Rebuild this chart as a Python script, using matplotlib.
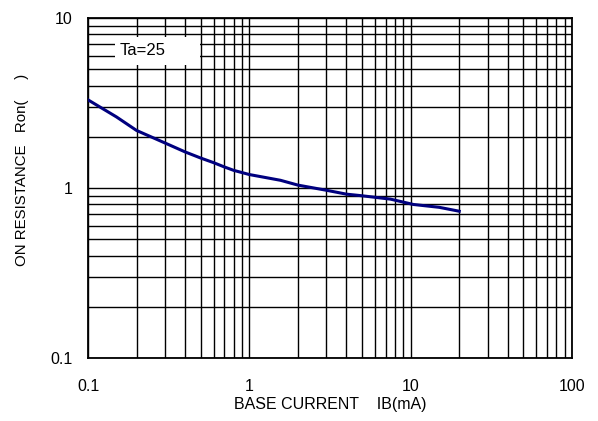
import matplotlib.pyplot as plt
from matplotlib.patches import Rectangle
from matplotlib.ticker import LogLocator, NullFormatter, FixedLocator, FixedFormatter

plt.rcParams["font.family"] = ["Liberation Sans", "DejaVu Sans"]

# curve
ib_ma = [0.1, 0.15, 0.2, 0.3, 0.4, 0.5, 0.6, 0.7, 0.8, 1.0, 1.56, 2.0, 3.0, 4.0, 5.0, 7.5, 10.4, 15.0, 20.0]
ron = [3.3, 2.62, 2.18, 1.84, 1.63, 1.50, 1.41, 1.33, 1.27, 1.20, 1.11, 1.04, 0.97, 0.92, 0.90, 0.86, 0.80, 0.77, 0.73]

x_ticks = [0.1, 1, 10, 100]
x_labels = ["0.1", "1", "10", "100"]
y_ticks = [0.1, 1, 10]
y_labels = ["0.1", "1", "10"]

fig = plt.figure(figsize=(5.98, 4.21), dpi=100)
ax = fig.add_axes([88 / 598, 1 - 358 / 421, (572 - 88) / 598, (358 - 18) / 421])

ax.set_xscale("log")
ax.set_yscale("log")
ax.set_xlim(0.1, 100)
ax.set_ylim(0.1, 10)

ax.xaxis.set_major_locator(FixedLocator(x_ticks))
ax.xaxis.set_major_formatter(FixedFormatter(x_labels))
ax.yaxis.set_major_locator(FixedLocator(y_ticks))
ax.yaxis.set_major_formatter(FixedFormatter(y_labels))
ax.xaxis.set_minor_locator(LogLocator(base=10, subs=range(2, 10)))
ax.yaxis.set_minor_locator(LogLocator(base=10, subs=range(2, 10)))
ax.xaxis.set_minor_formatter(NullFormatter())
ax.yaxis.set_minor_formatter(NullFormatter())

ax.grid(True, which="both", color="black", linewidth=1.0)
ax.tick_params(which="both", length=0, labelsize=11.5)
ax.tick_params(axis="x", pad=15)
ax.tick_params(axis="y", pad=11)
for s in ax.spines.values():
    s.set_linewidth(1.3)

ax.plot(ib_ma, ron, color="#00007f", linewidth=2.2, zorder=3)

# white label box over the grid
ax.add_patch(Rectangle((0.056, 0.862), 0.176, 0.082, transform=ax.transAxes,
                       facecolor="white", edgecolor="none", zorder=4))
ax.text(0.066, 0.903, "Ta=25", transform=ax.transAxes, fontsize=12,
        va="center", ha="left", zorder=5)

ax.set_xlabel("BASE CURRENT    IB(mA)", fontsize=11.5, labelpad=2)
ax.set_ylabel("ON RESISTANCE   Ron(     )", fontsize=10.8)
ax.yaxis.set_label_coords(-0.122, 0.553)

fig.savefig("out.png", dpi=100)
